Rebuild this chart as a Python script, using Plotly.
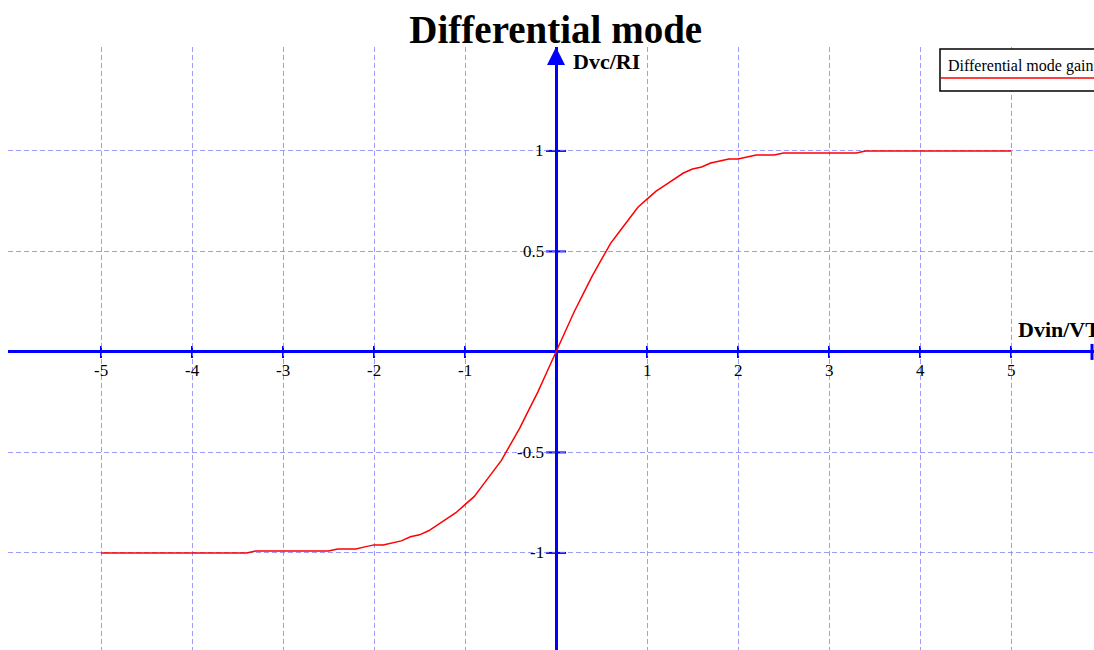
import plotly.graph_objects as go

# curve values (x step 0.1 from -5 to 5)
x_vals = [round(-5 + 0.1 * i, 1) for i in range(101)]
y_neg = [-1.00] * 17 + [-0.99] * 9 + [
    -0.98, -0.98, -0.98, -0.97, -0.96, -0.96, -0.95, -0.94, -0.92, -0.91,
    -0.89, -0.86, -0.83, -0.80, -0.76, -0.72, -0.66, -0.60, -0.54, -0.46,
    -0.38, -0.29, -0.20, -0.10]
y_pos = [0.00, 0.10, 0.20, 0.29, 0.38, 0.46, 0.54, 0.60, 0.66, 0.72,
         0.76, 0.80, 0.83, 0.86, 0.89, 0.91, 0.92, 0.94, 0.95, 0.96,
         0.96, 0.97, 0.98, 0.98, 0.98] + [0.99] * 9 + [1.00] * 17
y_vals = y_neg + y_pos

x_ticks = [-5, -4, -3, -2, -1, 1, 2, 3, 4, 5]
y_ticks = [-1, -0.5, 0.5, 1]
y_tick_text = ['-1', '-0.5', '0.5', '1']

title = 'Differential mode'
series_name = 'Differential mode gain'
x_label = 'Dvin/VT'
y_label = 'Dvc/RI'

W, H = 1094, 650
L, R, T, B = 8, 0, 47, 0
XR = [-6.022, 5.912]
YR = [-1.483, 1.517]
BLUE = '#0000ff'
GRID = 'rgba(120,120,255,0.75)'
SERIF = 'Liberation Serif, Times New Roman, serif'

# one pixel in data units
DX = (XR[1] - XR[0]) / (W - L - R)
DY = (YR[1] - YR[0]) / (H - T - B)


def px(p):
    return (p - L) / (W - L - R)


def py(p):
    return (H - B - p) / (H - T - B)


fig = go.Figure()
fig.add_trace(go.Scatter(x=x_vals, y=y_vals, mode='lines',
                         line=dict(color='red', width=1.5),
                         name=series_name, showlegend=False))

ann = []
shapes = []
for v in x_ticks:
    ann.append(dict(x=v, y=0, xref='x', yref='y', text=str(v), showarrow=False,
                    yshift=-19, font=dict(family=SERIF, size=17, color='black')))
    shapes.append(dict(type='line', xref='x', yref='y', x0=v, x1=v,
                       y0=-6 * DY, y1=6 * DY, line=dict(color=BLUE, width=2),
                       layer='below'))
for v, t in zip(y_ticks, y_tick_text):
    ann.append(dict(x=0, y=v, xref='x', yref='y', text=t, showarrow=False,
                    xanchor='right', xshift=-10,
                    font=dict(family=SERIF, size=17, color='black')))
    shapes.append(dict(type='line', xref='x', yref='y', x0=-10 * DX, x1=10 * DX,
                       y0=v, y1=v, line=dict(color=BLUE, width=2),
                       layer='below'))
# axis titles
ann.append(dict(x=0, y=py(61), xref='x', yref='paper', text='<b>' + y_label + '</b>',
                showarrow=False, xanchor='left', yanchor='middle', xshift=15,
                font=dict(family=SERIF, size=22, color='black')))
ann.append(dict(x=px(1016), y=0, xref='paper', yref='y', text='<b>' + x_label + '</b>',
                showarrow=False, xanchor='left', yanchor='middle', yshift=22,
                font=dict(family=SERIF, size=22, color='black')))
# y-axis arrow head
ann.append(dict(x=0, y=py(47), xref='x', yref='paper', ax=0, ay=18, text='',
                showarrow=True, arrowhead=2, arrowsize=1.2, arrowwidth=3,
                arrowcolor=BLUE))
# legend text
ann.append(dict(x=px(946), y=py(66), xref='paper', yref='paper', text=series_name,
                showarrow=False, xanchor='left', yanchor='middle',
                font=dict(family=SERIF, size=16, color='black')))

shapes += [
    dict(type='rect', xref='paper', yref='paper', x0=px(940), x1=px(1110),
         y0=py(91), y1=py(49), line=dict(color='black', width=1.5),
         fillcolor='white', layer='above'),
    dict(type='line', xref='paper', yref='paper', x0=px(941), x1=px(1100),
         y0=py(78), y1=py(78), line=dict(color='red', width=1.5), layer='above'),
    dict(type='line', xref='paper', yref='y', x0=px(1092), x1=px(1092),
         y0=-8 * DY, y1=8 * DY, line=dict(color=BLUE, width=3)),
]

fig.update_layout(
    width=W, height=H,
    margin=dict(l=L, r=R, t=T, b=B),
    plot_bgcolor='white', paper_bgcolor='white',
    title=dict(text='<b>' + title + '</b>', x=0.508, xanchor='center',
               y=1 - 29 / H, yanchor='middle',
               font=dict(family=SERIF, size=39, color='black')),
    xaxis=dict(range=XR, tickvals=x_ticks, showticklabels=False, ticks='',
               showgrid=True, gridcolor=GRID, griddash='5px,3px', gridwidth=1,
               zeroline=True, zerolinecolor=BLUE, zerolinewidth=3,
               showline=False, fixedrange=True),
    yaxis=dict(range=YR, tickvals=y_ticks, showticklabels=False, ticks='',
               showgrid=True, gridcolor=GRID, griddash='5px,3px', gridwidth=1,
               zeroline=True, zerolinecolor=BLUE, zerolinewidth=3,
               showline=False, fixedrange=True),
    annotations=ann,
    shapes=shapes,
    showlegend=False,
)

fig.write_html('out.html', config={'displayModeBar': False},
               post_script="document.body.style.margin='0px';")
